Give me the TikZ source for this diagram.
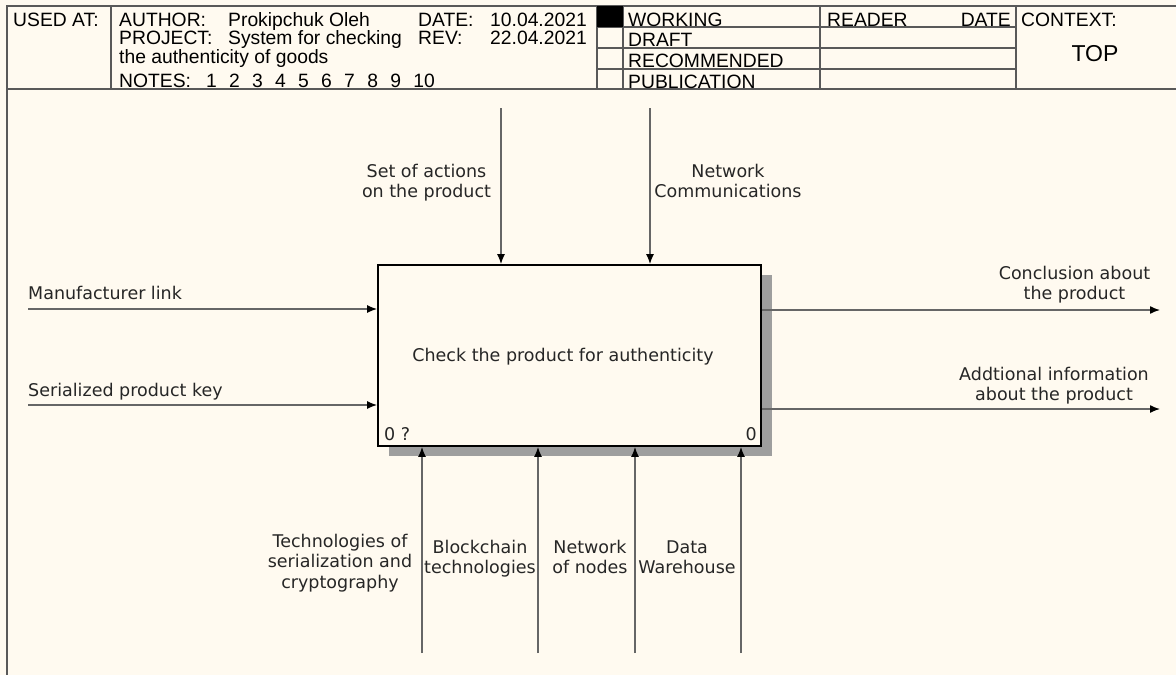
\documentclass[tikz,border=0pt]{standalone}
\usepackage{fontspec}
\setmainfont{DejaVu Sans}
\newfontfamily\hdrfont{Liberation Sans}
\usetikzlibrary{arrows.meta,shadows}
\definecolor{bgcream}{HTML}{FFFAF0}

\begin{document}
\begin{tikzpicture}[x=1pt,y=-1pt,
    lbl/.style={font=\fontsize{17.5}{20.5}\selectfont, text=black!85, inner sep=0pt, align=center, anchor=base},
    hdr/.style={font=\hdrfont\fontsize{19.3}{20}\selectfont, inner sep=0pt, anchor=base west},
    flow/.style={draw=black!60, line width=1.4pt, -{Latex[length=10pt,width=8pt,color=black]}},
    rule/.style={draw=black!65, line width=1.3pt}]
    \def\nsep{\hspace{12.3pt}}

    \useasboundingbox (0,0) rectangle (1176,675);
    \fill[bgcream] (0,0) rectangle (1176,675);

    % form frame
    \draw[rule] (1176,6) -- (7,6) -- (7,675);
    \draw[rule] (7,89) -- (1176,89);
    \foreach \x in {111,597,623,820,1016}
        \draw[rule] (\x,6) -- (\x,89);
    \foreach \y in {27,48,69}
        \draw[rule] (597,\y) -- (1016,\y);
    \fill (597,6) rectangle (623,27);

    \node[hdr] (usedat) at (13,26) {USED AT:};
    \node[hdr] (author) at (119,26) {AUTHOR:};
    \node[hdr] (authorname) at (228,26) {Prokipchuk Oleh};
    \node[hdr] (date) at (418,26) {DATE:};
    \node[hdr, anchor=base east] (dateval) at (587,26) {10.04.2021};
    \node[hdr] (project) at (119,44) {PROJECT:};
    \node[hdr] (projname) at (228,44) {System for checking};
    \node[hdr] (rev) at (418,44) {REV:};
    \node[hdr, anchor=base east] (revval) at (587,44) {22.04.2021};
    \node[hdr] (projname2) at (119,63) {the authenticity of goods};
    \node[hdr] (notes) at (119,87) {NOTES:\hspace{15pt}1\nsep2\nsep3\nsep4\nsep5\nsep6\nsep7\nsep8\nsep9\nsep10};

    \node[hdr] (working) at (628,26) {WORKING};
    \node[hdr] (draft) at (628,46.5) {DRAFT};
    \node[hdr] (recommended) at (628,67) {RECOMMENDED};
    \node[hdr] (publication) at (628,88) {PUBLICATION};
    \node[hdr] (reader) at (827,26) {READER};
    \node[hdr, anchor=base east] (readerdate) at (1011,26) {DATE};
    \node[hdr] (context) at (1021,26) {CONTEXT:};
    \node[hdr, anchor=base, font=\hdrfont\fontsize{23}{24}\selectfont] (top) at (1095,61) {TOP};

    % activity
    \node[draw=black, line width=1.8pt, fill=bgcream, minimum width=383pt, minimum height=181pt, inner sep=0pt,
          drop shadow={shadow xshift=11pt, shadow yshift=-10pt, fill=black!38, opacity=1}] (act) at (569.5,355.5) {};
    \node[lbl] (acttext) at (563,361) {Check the product for authenticity};
    \node[lbl, anchor=base west] (nodenum) at (384,440) {0 ?};
    \node[lbl, anchor=base east] (cost) at (757,440) {0};

    \coordinate (in1) at (28,309);
    \coordinate (in2) at (28,405);
    \coordinate (out1) at (1160,310);
    \coordinate (out2) at (1160,409);
    \coordinate (ctl1) at (501,108);
    \coordinate (ctl2) at (650,108);
    \foreach \m/\x in {mech1/422,mech2/538,mech3/635,mech4/741}
        \coordinate (\m) at (\x,653);

    \foreach \i in {in1,in2}
        \draw[flow] (\i) -- (\i -| act.west);
    \foreach \c in {ctl1,ctl2}
        \draw[flow] (\c) -- (\c |- act.north);
    \foreach \m in {mech1,mech2,mech3,mech4}
        \draw[flow] (\m) -- (\m |- act.south);
    \foreach \o in {out1,out2}
        \draw[flow] (\o -| act.east) -- (\o);

    % labels sit on the baseline of their last line
    \node[lbl, anchor=base west] (manlink) at (28,299) {Manufacturer link};
    \node[lbl, anchor=base west] (serkey) at (28,396) {Serialized product key};
    \node[lbl] (setact) at (426.5,197.5) {Set of actions\\on the product};
    \node[lbl] (netcomm) at (728,197.5) {Network\\Communications};
    \node[lbl] (conclusion) at (1074.5,299.5) {Conclusion about\\the product};
    \node[lbl] (addinfo) at (1054,400.5) {Addtional information\\about the product};
    \node[lbl] (techser) at (340,588) {Technologies of\\serialization and\\cryptography};
    \node[lbl] (blockchain) at (480,573.5) {Blockchain\\technologies};
    \node[lbl] (netnodes) at (590,573.5) {Network\\of nodes};
    \node[lbl] (warehouse) at (687,573.5) {Data\\Warehouse};

\end{tikzpicture}
\end{document}
